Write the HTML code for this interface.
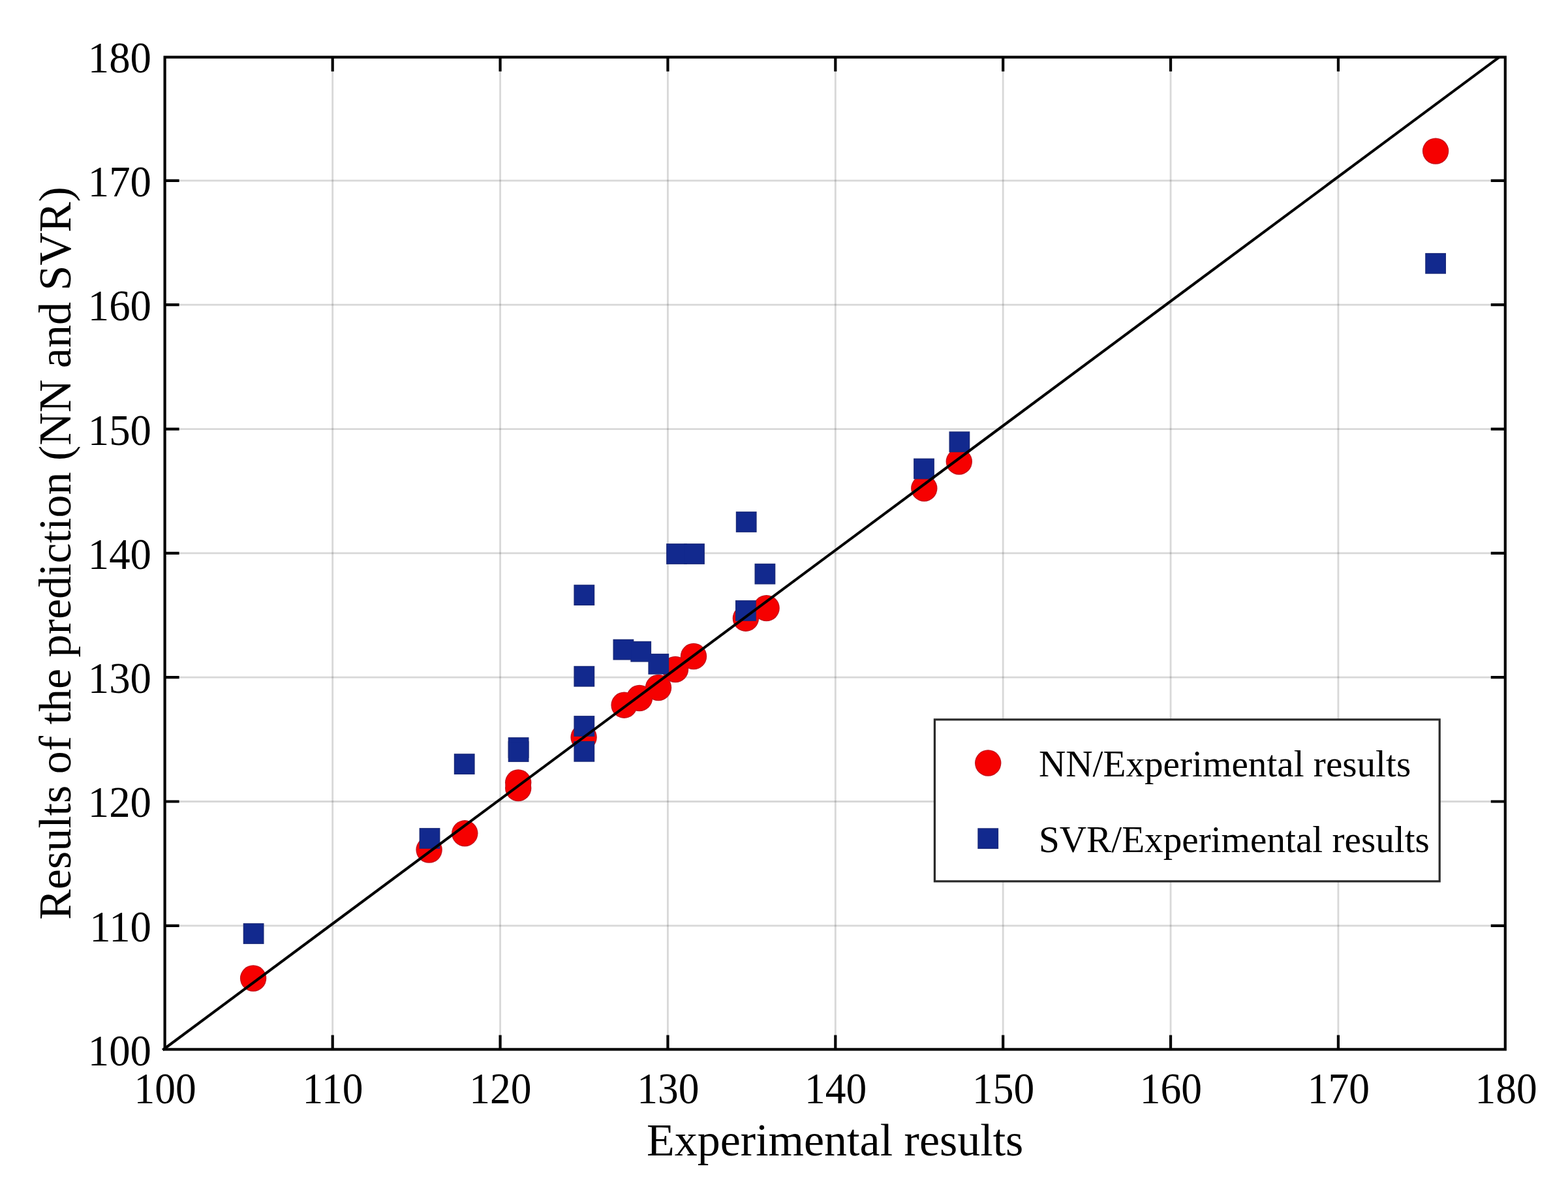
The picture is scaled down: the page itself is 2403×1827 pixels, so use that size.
<!DOCTYPE html>
<html><head><meta charset="utf-8"><title>Experimental results vs prediction</title>
<style>html,body{margin:0;padding:0;background:#fff;}svg{display:block;}</style></head><body>
<svg width="2403" height="1827" viewBox="0 0 2403 1827">
<rect x="0" y="0" width="2403" height="1827" fill="#ffffff"/>
<path d="M509.70 87.60V1608.40 M766.57 87.60V1608.40 M1023.44 87.60V1608.40 M1280.31 87.60V1608.40 M1537.18 87.60V1608.40 M1794.05 87.60V1608.40 M2050.92 87.60V1608.40" stroke="#262626" stroke-opacity="0.18" stroke-width="2.8" fill="none"/>
<path d="M252.60 1418.82H2306.80 M252.60 1228.50H2306.80 M252.60 1038.18H2306.80 M252.60 847.86H2306.80 M252.60 657.54H2306.80 M252.60 467.22H2306.80 M252.60 276.90H2306.80" stroke="#262626" stroke-opacity="0.18" stroke-width="2.8" fill="none"/>
<g fill="#c4121c">
<circle cx="388.1" cy="1499.5" r="20.20"/>
<circle cx="657.6" cy="1302.6" r="20.20"/>
<circle cx="712.3" cy="1277.3" r="20.20"/>
<circle cx="794.2" cy="1199.5" r="20.20"/>
<circle cx="794.2" cy="1208" r="20.20"/>
<circle cx="894.6" cy="1130" r="20.20"/>
<circle cx="956.6" cy="1080.7" r="20.20"/>
<circle cx="980" cy="1070" r="20.20"/>
<circle cx="1009" cy="1054" r="20.20"/>
<circle cx="1035" cy="1026" r="20.20"/>
<circle cx="1063" cy="1006" r="20.20"/>
<circle cx="1142.9" cy="947.7" r="20.20"/>
<circle cx="1174.6" cy="932.1" r="20.20"/>
<circle cx="1416.3" cy="748.5" r="20.20"/>
<circle cx="1469.8" cy="707.5" r="20.20"/>
<circle cx="2200.1" cy="231.6" r="20.20"/>
</g>
<g fill="#f60000">
<circle cx="388.1" cy="1499.5" r="18.90"/>
<circle cx="657.6" cy="1302.6" r="18.90"/>
<circle cx="712.3" cy="1277.3" r="18.90"/>
<circle cx="794.2" cy="1199.5" r="18.90"/>
<circle cx="794.2" cy="1208" r="18.90"/>
<circle cx="894.6" cy="1130" r="18.90"/>
<circle cx="956.6" cy="1080.7" r="18.90"/>
<circle cx="980" cy="1070" r="18.90"/>
<circle cx="1009" cy="1054" r="18.90"/>
<circle cx="1035" cy="1026" r="18.90"/>
<circle cx="1063" cy="1006" r="18.90"/>
<circle cx="1142.9" cy="947.7" r="18.90"/>
<circle cx="1174.6" cy="932.1" r="18.90"/>
<circle cx="1416.3" cy="748.5" r="18.90"/>
<circle cx="1469.8" cy="707.5" r="18.90"/>
<circle cx="2200.1" cy="231.6" r="18.90"/>
</g>
<g fill="#1b2a78">
<rect x="372.70" y="1415.10" width="31.80" height="31.80"/>
<rect x="642.60" y="1269.10" width="31.80" height="31.80"/>
<rect x="695.80" y="1155.20" width="31.80" height="31.80"/>
<rect x="778.70" y="1130.10" width="31.80" height="31.80"/>
<rect x="778.70" y="1136.10" width="31.80" height="31.80"/>
<rect x="879.40" y="896.20" width="31.80" height="31.80"/>
<rect x="879.40" y="1020.80" width="31.80" height="31.80"/>
<rect x="879.40" y="1097.10" width="31.80" height="31.80"/>
<rect x="879.40" y="1135.90" width="31.80" height="31.80"/>
<rect x="939.50" y="979.80" width="31.80" height="31.80"/>
<rect x="966.30" y="982.80" width="31.80" height="31.80"/>
<rect x="993.40" y="1001.90" width="31.80" height="31.80"/>
<rect x="1021.10" y="833.10" width="31.80" height="31.80"/>
<rect x="1048.10" y="833.10" width="31.80" height="31.80"/>
<rect x="1127.80" y="784.10" width="31.80" height="31.80"/>
<rect x="1156.50" y="863.80" width="31.80" height="31.80"/>
<rect x="1127.00" y="920.10" width="31.80" height="31.80"/>
<rect x="1400.10" y="702.60" width="31.80" height="31.80"/>
<rect x="1454.50" y="661.35" width="31.80" height="31.80"/>
<rect x="2184.20" y="387.90" width="31.80" height="31.80"/>
</g>
<g fill="#12298e">
<rect x="374.00" y="1416.40" width="29.20" height="29.20"/>
<rect x="643.90" y="1270.40" width="29.20" height="29.20"/>
<rect x="697.10" y="1156.50" width="29.20" height="29.20"/>
<rect x="780.00" y="1131.40" width="29.20" height="29.20"/>
<rect x="780.00" y="1137.40" width="29.20" height="29.20"/>
<rect x="880.70" y="897.50" width="29.20" height="29.20"/>
<rect x="880.70" y="1022.10" width="29.20" height="29.20"/>
<rect x="880.70" y="1098.40" width="29.20" height="29.20"/>
<rect x="880.70" y="1137.20" width="29.20" height="29.20"/>
<rect x="940.80" y="981.10" width="29.20" height="29.20"/>
<rect x="967.60" y="984.10" width="29.20" height="29.20"/>
<rect x="994.70" y="1003.20" width="29.20" height="29.20"/>
<rect x="1022.40" y="834.40" width="29.20" height="29.20"/>
<rect x="1049.40" y="834.40" width="29.20" height="29.20"/>
<rect x="1129.10" y="785.40" width="29.20" height="29.20"/>
<rect x="1157.80" y="865.10" width="29.20" height="29.20"/>
<rect x="1128.30" y="921.40" width="29.20" height="29.20"/>
<rect x="1401.40" y="703.90" width="29.20" height="29.20"/>
<rect x="1455.80" y="662.65" width="29.20" height="29.20"/>
<rect x="2185.50" y="389.20" width="29.20" height="29.20"/>
</g>
<line x1="249.20" y1="1609.42" x2="2297.60" y2="87.60" stroke="#000" stroke-width="4.1"/>
<path d="M509.70 1608.40v-22 M509.70 87.60v22 M252.60 1418.82h22 M2306.80 1418.82h-22 M766.57 1608.40v-22 M766.57 87.60v22 M252.60 1228.50h22 M2306.80 1228.50h-22 M1023.44 1608.40v-22 M1023.44 87.60v22 M252.60 1038.18h22 M2306.80 1038.18h-22 M1280.31 1608.40v-22 M1280.31 87.60v22 M252.60 847.86h22 M2306.80 847.86h-22 M1537.18 1608.40v-22 M1537.18 87.60v22 M252.60 657.54h22 M2306.80 657.54h-22 M1794.05 1608.40v-22 M1794.05 87.60v22 M252.60 467.22h22 M2306.80 467.22h-22 M2050.92 1608.40v-22 M2050.92 87.60v22 M252.60 276.90h22 M2306.80 276.90h-22" stroke="#000" stroke-width="4.2" fill="none"/>
<rect x="252.6" y="87.6" width="2054.20" height="1520.80" fill="none" stroke="#000" stroke-width="4.2" stroke-linejoin="miter"/>
<g font-family="'Liberation Serif', 'Times New Roman', serif" font-size="67.5" fill="#000">
<text transform="translate(253.18 1691.2) scale(0.941 1)" text-anchor="middle">100</text>
<text transform="translate(510.05 1691.2) scale(0.941 1)" text-anchor="middle">110</text>
<text transform="translate(766.92 1691.2) scale(0.941 1)" text-anchor="middle">120</text>
<text transform="translate(1023.79 1691.2) scale(0.941 1)" text-anchor="middle">130</text>
<text transform="translate(1280.66 1691.2) scale(0.941 1)" text-anchor="middle">140</text>
<text transform="translate(1537.53 1691.2) scale(0.941 1)" text-anchor="middle">150</text>
<text transform="translate(1794.40 1691.2) scale(0.941 1)" text-anchor="middle">160</text>
<text transform="translate(2051.27 1691.2) scale(0.941 1)" text-anchor="middle">170</text>
<text transform="translate(2308.14 1691.2) scale(0.941 1)" text-anchor="middle">180</text>
<text transform="translate(232 1633.00) scale(0.96 1)" text-anchor="end">100</text>
<text transform="translate(232 1442.70) scale(0.96 1)" text-anchor="end">110</text>
<text transform="translate(232 1252.40) scale(0.96 1)" text-anchor="end">120</text>
<text transform="translate(232 1062.10) scale(0.96 1)" text-anchor="end">130</text>
<text transform="translate(232 871.80) scale(0.96 1)" text-anchor="end">140</text>
<text transform="translate(232 681.50) scale(0.96 1)" text-anchor="end">150</text>
<text transform="translate(232 491.20) scale(0.96 1)" text-anchor="end">160</text>
<text transform="translate(232 300.90) scale(0.96 1)" text-anchor="end">170</text>
<text transform="translate(232 110.60) scale(0.96 1)" text-anchor="end">180</text>
</g>
<text x="1279.70" y="1771" text-anchor="middle" font-family="'Liberation Serif', 'Times New Roman', serif" font-size="70" fill="#000">Experimental results</text>
<text transform="translate(108 848.00) rotate(-90)" x="0" y="0" text-anchor="middle" font-family="'Liberation Serif', 'Times New Roman', serif" font-size="70" fill="#000">Results of the prediction (NN and SVR)</text>
<rect x="1432.4" y="1102.9" width="773.7999999999997" height="247.89999999999986" fill="#ffffff" stroke="#2a2a2a" stroke-width="3.2"/>
<circle cx="1514.2" cy="1169.5" r="20.20" fill="#c4121c"/>
<circle cx="1514.2" cy="1169.5" r="18.90" fill="#f60000"/>
<rect x="1498.30" y="1269.30" width="31.80" height="31.80" fill="#1b2a78"/>
<rect x="1499.60" y="1270.60" width="29.20" height="29.20" fill="#12298e"/>
<g font-family="'Liberation Serif', 'Times New Roman', serif" font-size="57.2" fill="#000">
<text x="1592" y="1190">NN/Experimental results</text>
<text x="1592" y="1306">SVR/Experimental results</text>
</g>
</svg></body></html>
